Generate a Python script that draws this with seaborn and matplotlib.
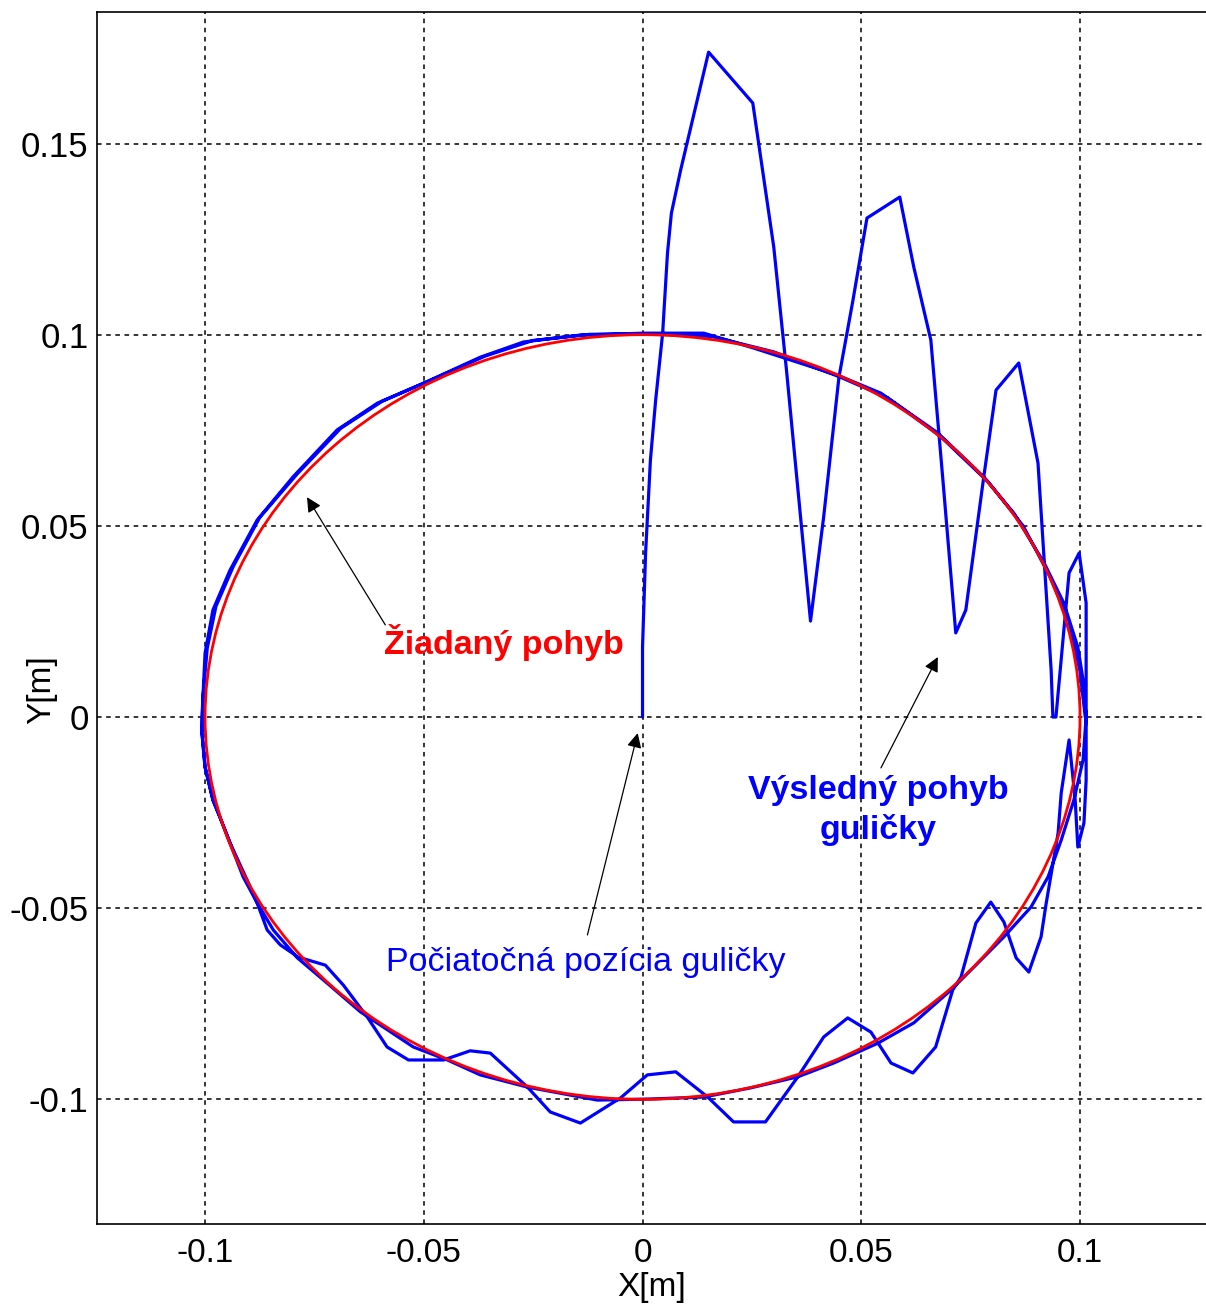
import matplotlib
matplotlib.use("Agg")
import matplotlib.pyplot as plt
from matplotlib.patches import Circle
import seaborn as sns
import pandas as pd

# ---------------- data ----------------
desired_center = (0.0, 0.0)
desired_radius = 0.1

# resulting ball trajectory (x, y) in metres, in time order
ball_x = [
    0.0, 0.0, 0.0007, 0.0018, 0.0030, 0.0046, 0.0057, 0.0066, 0.0087, 0.0151,
    0.0252, 0.0300, 0.0329, 0.0384, 0.0414, 0.0449, 0.0481, 0.0513, 0.0588, 0.0620,
    0.0659, 0.0686, 0.0716, 0.0739, 0.0780, 0.0808, 0.0860, 0.0904, 0.0934, 0.0938,
    0.0945, 0.0975, 0.0998, 0.1014, 0.1014, 0.1009, 0.0995, 0.0989, 0.0975, 0.0957,
    0.0950, 0.0922, 0.0911, 0.0883, 0.0854, 0.0826, 0.0796, 0.0762, 0.0728, 0.0709,
    0.0670, 0.0618, 0.0568, 0.0522, 0.0469, 0.0414, 0.0355, 0.0281, 0.0208, 0.0149,
    0.0076, 0.0011, -0.0050, -0.0142, -0.0211, -0.0263, -0.0348, -0.0394, -0.0455, -0.0535,
    -0.0584, -0.0629, -0.0684, -0.0725, -0.0787, -0.0828, -0.0858, -0.0881, -0.0904,
    # first settled loop
    -0.0943, -0.0966, -0.0982, -0.1000, -0.1007, -0.1007, -0.1000, -0.0982, -0.0943, -0.0881,
    -0.0799, -0.0698, -0.0606, -0.0501, -0.0371, -0.0272, -0.0142, 0.0002, 0.0140, 0.0254,
    0.0446, 0.0545, 0.0675, 0.0780, 0.0849, 0.0918, 0.0963, 0.0995, 0.1007, 0.1014,
    0.1007, 0.0986, 0.0957, 0.0927, 0.0888, 0.0826, 0.0780, 0.0705, 0.0620, 0.0538,
    0.0437, 0.0355, 0.0247, 0.0140, 0.0018, -0.0103, -0.0263, -0.0371, -0.0446, -0.0524,
    -0.0645, -0.0721, -0.0789, -0.0844, -0.0881, -0.0913, -0.0943, -0.0966, -0.0982, -0.1000,
    -0.1007,
    # second loop (upper part)
    -0.1005, -0.0995, -0.0975, -0.0935, -0.0875, -0.0790, -0.0690, -0.0595, -0.0490, -0.0360,
    -0.0250, -0.0120, 0.0050, 0.0160, 0.0300, 0.0450, 0.0560, 0.0680, 0.0790, 0.0870,
    0.0930, 0.0975, 0.1000, 0.1012,
]
ball_y = [
    0.0, 0.0183, 0.0429, 0.0672, 0.0829, 0.1004, 0.1213, 0.1318, 0.1430, 0.1739,
    0.1606, 0.1229, 0.0908, 0.0251, 0.0523, 0.0889, 0.1090, 0.1305, 0.1360, 0.1177,
    0.0986, 0.0628, 0.0220, 0.0280, 0.0628, 0.0855, 0.0926, 0.0664, 0.0123, 0.0,
    0.0, 0.0377, 0.0429, 0.0298, -0.0165, -0.0277, -0.0340, -0.0217, -0.0060, -0.0199,
    -0.0303, -0.0492, -0.0575, -0.0667, -0.0630, -0.0536, -0.0484, -0.0539, -0.0680, -0.0714,
    -0.0863, -0.0931, -0.0905, -0.0824, -0.0787, -0.0837, -0.0941, -0.1059, -0.1059, -0.0994,
    -0.0928, -0.0936, -0.0996, -0.1062, -0.1033, -0.0968, -0.0879, -0.0873, -0.0897, -0.0897,
    -0.0863, -0.0785, -0.0701, -0.0649, -0.0628, -0.0596, -0.0557, -0.0486, -0.0426,
    # first settled loop
    -0.0329, -0.0262, -0.0217, -0.0131, -0.0042, 0.0, 0.0167, 0.0280, 0.0384, 0.0515,
    0.0628, 0.0751, 0.0821, 0.0873, 0.0941, 0.0981, 0.0999, 0.1004, 0.1004, 0.0965,
    0.0894, 0.0847, 0.0743, 0.0628, 0.0533, 0.0403, 0.0298, 0.0183, 0.0097, 0.0,
    -0.0112, -0.0217, -0.0322, -0.0418, -0.0497, -0.0575, -0.0628, -0.0714, -0.0800, -0.0853,
    -0.0905, -0.0941, -0.0970, -0.0994, -0.0999, -0.1002, -0.0968, -0.0936, -0.0897, -0.0863,
    -0.0771, -0.0696, -0.0630, -0.0557, -0.0486, -0.0418, -0.0329, -0.0262, -0.0217, -0.0131,
    -0.0042,
    # second loop (upper part)
    0.0050, 0.0180, 0.0290, 0.0395, 0.0522, 0.0635, 0.0755, 0.0826, 0.0878, 0.0944,
    0.0985, 0.1001, 0.1002, 0.0995, 0.0955, 0.0890, 0.0835, 0.0735, 0.0615, 0.0500,
    0.0370, 0.0250, 0.0120, 0.0,
]

x_ticks = [-0.1, -0.05, 0, 0.05, 0.1]
x_tick_labels = ["-0.1", "-0.05", "0", "0.05", "0.1"]
y_ticks = [-0.1, -0.05, 0, 0.05, 0.1, 0.15]
y_tick_labels = ["-0.1", "-0.05", "0", "0.05", "0.1", "0.15"]
x_limits = (-0.1247, 0.1288)
y_limits = (-0.1326, 0.1844)

label_desired = "Žiadaný pohyb"
label_start = "Počiatočná pozícia guličky"
label_result = "Výsledný pohyb\nguličky"

# ---------------- style ----------------
sns.set_theme(style="white")
plt.rcParams["font.family"] = ["Liberation Sans", "DejaVu Sans"]
plt.rcParams["axes.unicode_minus"] = False

W, H = 1206, 1306
fig = plt.figure(figsize=(W / 100, H / 100), dpi=100)
fig.patch.set_facecolor("white")
ax = fig.add_axes([97 / W, 1 - 1224 / H, (1206 - 97) / W, (1224 - 12) / H])
ax.set_facecolor("white")

df = pd.DataFrame({"x": ball_x, "y": ball_y})
sns.lineplot(data=df, x="x", y="y", sort=False, estimator=None,
             color="#0000FF", linewidth=2.3, ax=ax, zorder=3)

ax.add_patch(Circle(desired_center, desired_radius, fill=False,
                    edgecolor="#FF0000", linewidth=2.0, zorder=4))

ax.set_xlim(*x_limits)
ax.set_ylim(*y_limits)
ax.set_xticks(x_ticks)
ax.set_xticklabels(x_tick_labels)
ax.set_yticks(y_ticks)
ax.set_yticklabels(y_tick_labels)
ax.tick_params(axis="both", direction="in", length=6, width=1, colors="black",
               labelsize=24)
ax.tick_params(axis="y", pad=6, labelsize=25)
ax.tick_params(axis="x", pad=10)

ax.grid(True, color="black", linestyle=(0, (3, 3)), linewidth=1.1)
for side in ["left", "bottom", "top"]:
    ax.spines[side].set_visible(True)
    ax.spines[side].set_color("black")
    ax.spines[side].set_linewidth(1.2)
ax.spines["right"].set_visible(False)

ax.set_xlabel("X[m]", fontsize=24, color="black", labelpad=2)
ax.set_ylabel("Y[m]", fontsize=24, color="black")
ax.yaxis.set_label_coords((57 - 97) / 1109, (1224 - 690) / 1212)

arrow = dict(arrowstyle="-|>", color="black", lw=0.9,
             mutation_scale=22, shrinkA=0, shrinkB=0)

ax.annotate("", xy=(-0.0767, 0.0575), xytext=(-0.0588, 0.0241), arrowprops=arrow)
ax.text(-0.0318, 0.0196, label_desired, color="#FF0000", fontsize=24.5,
        fontweight="bold", ha="center", va="center", zorder=6)

ax.annotate("", xy=(-0.0011, -0.0042), xytext=(-0.0126, -0.0570), arrowprops=arrow)
ax.text(-0.0130, -0.0641, label_start, color="#0000FF", fontsize=24.5,
        ha="center", va="center", zorder=6)

ax.annotate("", xy=(0.0675, 0.0157), xytext=(0.0545, -0.0133), arrowprops=arrow)
ax.text(0.0538, -0.0245, label_result, color="#0000FF", fontsize=24.5,
        fontweight="bold", ha="center", va="center", linespacing=1.3, zorder=6)

fig.savefig("out.png", dpi=100, facecolor="white")
